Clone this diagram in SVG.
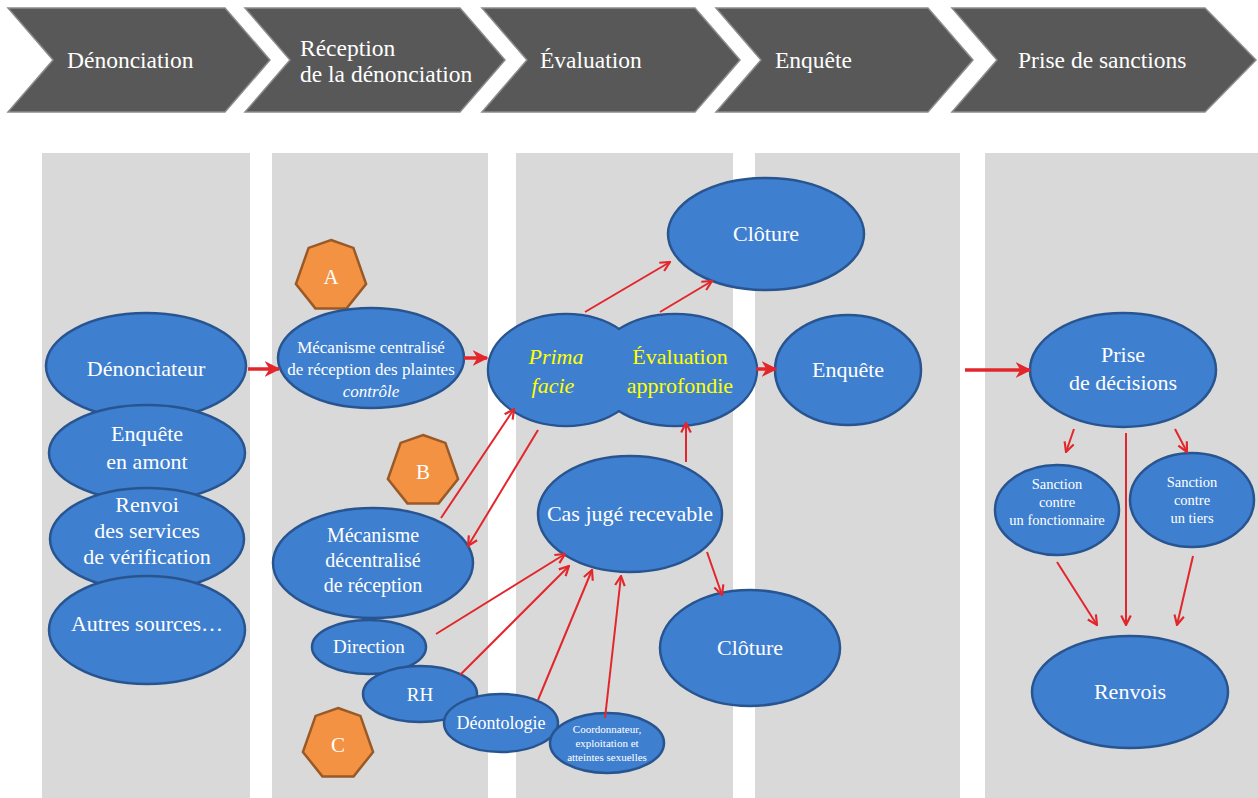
<svg xmlns="http://www.w3.org/2000/svg" xmlns:xlink="http://www.w3.org/1999/xlink" width="1258" height="798" viewBox="0 0 1258 798" font-family="'Liberation Serif', Tinos, 'Times New Roman', 'Noto Serif', 'DejaVu Serif', FreeSerif, serif">
<defs>
<style>
.chev{fill:#585858;stroke:#8c8c8c;stroke-width:1.5}
.ct{font-size:23.5px;fill:#ffffff}
.band{fill:#d9d9d9}
.n{fill:#3f7fd0;stroke:#285590;stroke-width:2.5}
.nf{fill:#3f7fd0;stroke:none}
.t{fill:#ffffff;text-anchor:middle}
.y{fill:#ffff00;text-anchor:middle;font-size:22px}
.hep{fill:#f39242;stroke:#9a5a28;stroke-width:2.5}
.c{stroke:#e3262b;fill:none;stroke-width:2}
.ck{stroke:#e3262b;fill:none;stroke-width:3.5}
</style>
<polygon id="hept" points="0,-36 22.4,-28.1 35.1,8 15.6,32.4 -15.6,32.4 -35.1,8 -22.4,-28.1"/>
<marker id="ah" viewBox="0 0 10 10" refX="9" refY="5" markerWidth="12" markerHeight="12" markerUnits="userSpaceOnUse" orient="auto">
<path d="M1,1 L9,5 L1,9" fill="none" stroke="#e3262b" stroke-width="1.8"/>
</marker>
<marker id="ahk" viewBox="0 0 10 10" refX="9" refY="5" markerWidth="16" markerHeight="16" markerUnits="userSpaceOnUse" orient="auto">
<path d="M0,0 L10,5 L0,10 L3,5 z" fill="#e3262b"/>
</marker>
</defs>
<rect x="0" y="0" width="1258" height="798" fill="#ffffff"/>

<g id="phases">
<polygon class="chev" points="8,8 225,8 270,60 225,112 8,112 53,60"/>
<polygon class="chev" points="245,8 460,8 505,60 460,112 245,112 290,60"/>
<polygon class="chev" points="482,8 695,8 740,60 695,112 482,112 527,60"/>
<polygon class="chev" points="716,8 928,8 973,60 928,112 716,112 761,60"/>
<polygon class="chev" points="952,8 1205,8 1256,60 1205,112 952,112 997,60"/>
<text class="ct" x="67" y="68">Dénonciation</text>
<text class="ct" x="300" y="56">Réception</text>
<text class="ct" x="300" y="82">de la dénonciation</text>
<text class="ct" x="540" y="68">Évaluation</text>
<text class="ct" x="775" y="68">Enquête</text>
<text class="ct" x="1018" y="68">Prise de sanctions</text>
</g>

<g id="bands">
<rect class="band" x="42" y="153" width="208" height="645"/>
<rect class="band" x="272" y="153" width="216" height="645"/>
<rect class="band" x="516" y="153" width="217" height="645"/>
<rect class="band" x="755" y="153" width="205" height="645"/>
<rect class="band" x="985" y="153" width="273" height="645"/>
</g>

<g id="n-denonciateur"><ellipse class="n" cx="146" cy="366" rx="100" ry="53"/><text class="t" x="146" y="376" font-size="22">Dénonciateur</text></g>
<g id="n-enquete-amont"><ellipse class="n" cx="147" cy="453" rx="98" ry="48"/><text class="t" x="147" y="441" font-size="22">Enquête</text><text class="t" x="147" y="469" font-size="22">en amont</text></g>
<g id="n-renvoi"><ellipse class="n" cx="147" cy="539" rx="97" ry="51"/><text class="t" x="147" y="512" font-size="22">Renvoi</text><text class="t" x="147" y="538" font-size="22">des services</text><text class="t" x="147" y="564" font-size="22">de vérification</text></g>
<g id="n-autres"><ellipse class="n" cx="147" cy="630" rx="98" ry="54"/><text class="t" x="147" y="631" font-size="22">Autres sources…</text></g>

<g id="hex-a"><use xlink:href="#hept" class="hep" transform="translate(331,276)"/><text class="t" x="331" y="284" font-size="21">A</text></g>
<g id="n-centralise"><ellipse class="n" cx="371" cy="358" rx="93" ry="50"/><text class="t" x="371" y="353" font-size="17">Mécanisme centralisé</text><text class="t" x="371" y="375" font-size="17">de réception des plaintes</text><text class="t" x="371" y="397" font-size="17" font-style="italic">contrôle</text></g>
<g id="hex-b"><use xlink:href="#hept" class="hep" transform="translate(423,471)"/><text class="t" x="423" y="479" font-size="21">B</text></g>
<g id="n-decentralise"><ellipse class="n" cx="373" cy="563" rx="100" ry="55"/><text class="t" x="373" y="542" font-size="20">Mécanisme</text><text class="t" x="373" y="567" font-size="20">décentralisé</text><text class="t" x="373" y="592" font-size="20">de réception</text></g>
<g id="n-direction"><ellipse class="n" cx="369" cy="647" rx="57" ry="27"/><text class="t" x="369" y="653" font-size="19">Direction</text></g>
<g id="n-rh"><ellipse class="n" cx="420" cy="694" rx="57" ry="28"/><text class="t" x="420" y="701" font-size="19">RH</text></g>
<g id="n-deontologie"><ellipse class="n" cx="501" cy="723" rx="57" ry="29"/><text class="t" x="501" y="729" font-size="18">Déontologie</text></g>
<g id="n-coordonnateur"><ellipse class="n" cx="607" cy="743" rx="57" ry="30"/><text class="t" x="607" y="733" font-size="11">Coordonnateur,</text><text class="t" x="607" y="747" font-size="11">exploitation et</text><text class="t" x="607" y="761" font-size="11">atteintes sexuelles</text></g>
<g id="hex-c"><use xlink:href="#hept" class="hep" transform="translate(338,744)"/><text class="t" x="338" y="752" font-size="21">C</text></g>

<g id="n-evaluation">
<ellipse class="n" cx="566" cy="370" rx="78" ry="56"/>
<ellipse class="n" cx="675" cy="370" rx="82" ry="56"/>
<ellipse class="nf" cx="566" cy="370" rx="76.8" ry="54.8"/>
<ellipse class="nf" cx="675" cy="370" rx="80.8" ry="54.8"/>
<text class="y" x="556" y="364" font-style="italic">Prima</text>
<text class="y" x="553" y="393" font-style="italic">facie</text>
<text class="y" x="680" y="364">Évaluation</text>
<text class="y" x="680" y="393">approfondie</text>
</g>
<g id="n-cloture-haut"><ellipse class="n" cx="766" cy="234" rx="98" ry="56"/><text class="t" x="766" y="241" font-size="22">Clôture</text></g>
<g id="n-cas"><ellipse class="n" cx="630" cy="514" rx="92" ry="58"/><text class="t" x="630" y="521" font-size="22">Cas jugé recevable</text></g>
<g id="n-cloture-bas"><ellipse class="n" cx="750" cy="648" rx="90" ry="58"/><text class="t" x="750" y="655" font-size="22">Clôture</text></g>

<g id="n-enquete"><ellipse class="n" cx="848" cy="370" rx="73" ry="55"/><text class="t" x="848" y="377" font-size="22">Enquête</text></g>

<g id="n-decisions"><ellipse class="n" cx="1123" cy="370" rx="93" ry="57"/><text class="t" x="1123" y="362" font-size="22">Prise</text><text class="t" x="1123" y="390" font-size="22">de décisions</text></g>
<g id="n-sanction-fonct"><ellipse class="n" cx="1057" cy="510" rx="62" ry="45"/><text class="t" x="1057" y="489" font-size="14.5">Sanction</text><text class="t" x="1057" y="507" font-size="14.5">contre</text><text class="t" x="1057" y="525" font-size="14.5">un fonctionnaire</text></g>
<g id="n-sanction-tiers"><ellipse class="n" cx="1192" cy="500" rx="62" ry="47"/><text class="t" x="1192" y="487" font-size="14.5">Sanction</text><text class="t" x="1192" y="505" font-size="14.5">contre</text><text class="t" x="1192" y="523" font-size="14.5">un tiers</text></g>
<g id="n-renvois"><ellipse class="n" cx="1130" cy="692" rx="98" ry="56"/><text class="t" x="1130" y="699" font-size="22">Renvois</text></g>

<g id="connectors">
<line class="ck" x1="248" y1="369" x2="279" y2="369" marker-end="url(#ahk)"/>
<line class="ck" x1="464" y1="358" x2="487" y2="358" marker-end="url(#ahk)"/>
<line class="ck" x1="756" y1="369" x2="776" y2="369" marker-end="url(#ahk)"/>
<line class="ck" x1="965" y1="370" x2="1030" y2="370" marker-end="url(#ahk)"/>
<line class="c" x1="585" y1="312" x2="670" y2="262" marker-end="url(#ah)"/>
<line class="c" x1="660" y1="312" x2="712" y2="281" marker-end="url(#ah)"/>
<line class="c" x1="441" y1="518" x2="514" y2="409" marker-end="url(#ah)"/>
<line class="c" x1="538" y1="430" x2="468" y2="546" marker-end="url(#ah)"/>
<line class="c" x1="686" y1="462" x2="686" y2="423" marker-end="url(#ah)"/>
<line class="c" x1="707" y1="552" x2="722" y2="595" marker-end="url(#ah)"/>
<line class="c" x1="436" y1="634" x2="565" y2="554" marker-end="url(#ah)"/>
<line class="c" x1="460" y1="675" x2="569" y2="566" marker-end="url(#ah)"/>
<line class="c" x1="538" y1="700" x2="592" y2="570" marker-end="url(#ah)"/>
<line class="c" x1="605" y1="718" x2="621" y2="576" marker-end="url(#ah)"/>
<line class="c" x1="1074" y1="429" x2="1066" y2="452" marker-end="url(#ah)"/>
<line class="c" x1="1175" y1="429" x2="1187" y2="452" marker-end="url(#ah)"/>
<line class="c" x1="1126" y1="433" x2="1126" y2="625" marker-end="url(#ah)"/>
<line class="c" x1="1057" y1="562" x2="1097" y2="625" marker-end="url(#ah)"/>
<line class="c" x1="1193" y1="556" x2="1177" y2="625" marker-end="url(#ah)"/>
</g>
</svg>
